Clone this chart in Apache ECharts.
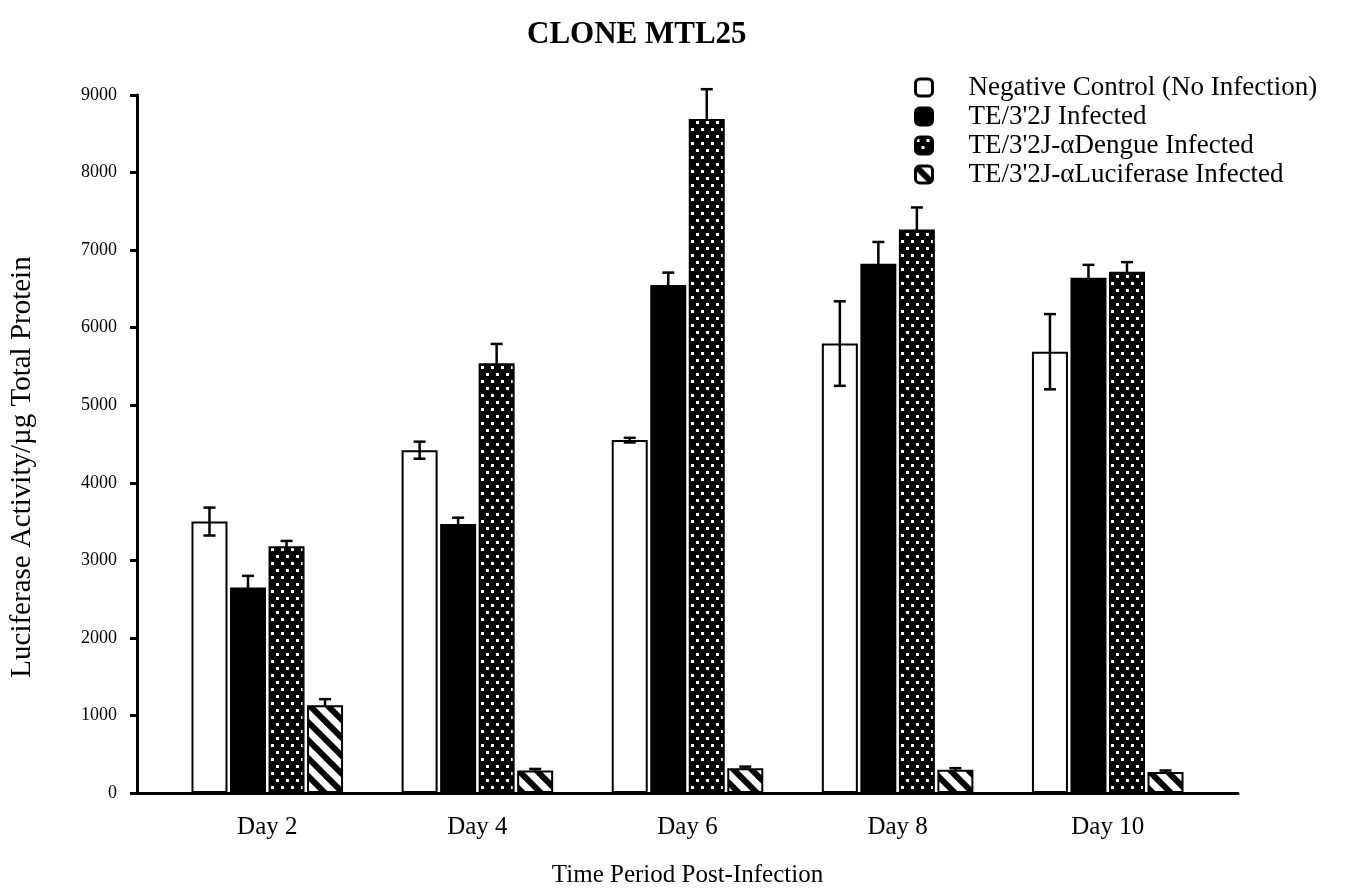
<!DOCTYPE html>
<html>
<head>
<meta charset="utf-8">
<script src="https://cdn.jsdelivr.net/npm/echarts@6/dist/echarts.min.js"></script>
<style>
html,body{margin:0;padding:0;background:#fff;}
#chart{width:1350px;height:893px;}
</style>
</head>
<body>
<div id="chart"></div>
<script>
// ---- data ----
const categories = ['Day 2', 'Day 4', 'Day 6', 'Day 8', 'Day 10'];
const seriesNames = [
  'Negative Control (No Infection)',
  "TE/3'2J Infected",
  "TE/3'2J-\u03B1Dengue Infected",
  "TE/3'2J-\u03B1Luciferase Infected"
];
const negControl = [3500, 4420, 4550, 5795, 5690];
const negControlErr = [180, 110, 30, 545, 485];
const te32j = [2650, 3470, 6550, 6825, 6645];
const te32jErr = [150, 80, 160, 280, 165];
const dengue = [3180, 5540, 8690, 7265, 6720];
const dengueErr = [70, 250, 385, 285, 125];
const luciferase = [1130, 290, 320, 300, 270];
const luciferaseErr = [80, 20, 20, 20, 20];
const yTicks = [0, 1000, 2000, 3000, 4000, 5000, 6000, 7000, 8000, 9000];

const values = [negControl, te32j, dengue, luciferase];
const errors = [negControlErr, te32jErr, dengueErr, luciferaseErr];

// ---- patterns ----
function dotsPattern() {
  const c = document.createElement('canvas');
  c.width = 10; c.height = 14;
  const ctx = c.getContext('2d');
  ctx.fillStyle = '#000'; ctx.fillRect(0, 0, 10, 14);
  ctx.fillStyle = '#fff';
  ctx.fillRect(1, 2, 3, 3);
  ctx.fillRect(6, 9, 3, 3);
  return c;
}
function stripePattern() {
  const s = 18;
  const c = document.createElement('canvas');
  c.width = s; c.height = s;
  const ctx = c.getContext('2d');
  ctx.fillStyle = '#fff'; ctx.fillRect(0, 0, s, s);
  ctx.strokeStyle = '#000'; ctx.lineWidth = 6;
  for (let k = -2; k <= 2; k++) {
    ctx.beginPath();
    ctx.moveTo(-s, -s + k * s);
    ctx.lineTo(2 * s, 2 * s + k * s);
    ctx.stroke();
  }
  return c;
}
const fills = [
  '#ffffff',
  '#000000',
  { image: dotsPattern(), repeat: 'repeat' },
  { image: stripePattern(), repeat: 'repeat' }
];

const BAR_W = 36;
const GAP = 0.07;
const FONT = '"Liberation Serif", "Times New Roman", serif';

const barSeries = values.map((vals, si) => ({
  type: 'bar',
  name: seriesNames[si],
  data: vals.map((v, i) => [i, v]),
  barWidth: BAR_W,
  barGap: (GAP * 100) + '%',
  z: 2,
  itemStyle: { color: fills[si], borderColor: '#000', borderWidth: 2 },
  emphasis: { disabled: true }
}));

const errSeries = values.map((vals, si) => ({
  type: 'custom',
  name: 'err' + si,
  z: si === 0 ? 5 : 1,
  data: vals.map((v, i) => [i, v, errors[si][i]]),
  encode: { x: 0, y: 1 },
  renderItem: function (params, api) {
    const x = api.value(0), v = api.value(1), e = api.value(2);
    const top = api.coord([x, v + e]);
    const bot = api.coord([x, v - e]);
    const dx = (si - 1.5) * BAR_W * (1 + GAP);
    const cx = top[0] + dx;
    const cap = 6;
    const st = { stroke: '#000', lineWidth: 2.5 };
    return {
      type: 'group',
      children: [
        { type: 'line', shape: { x1: cx, y1: top[1], x2: cx, y2: bot[1] }, style: st },
        { type: 'line', shape: { x1: cx - cap, y1: top[1], x2: cx + cap, y2: top[1] }, style: st },
        { type: 'line', shape: { x1: cx - cap, y1: bot[1], x2: cx + cap, y2: bot[1] }, style: st }
      ]
    };
  }
}));

const chart = echarts.init(document.getElementById('chart'), null, { renderer: 'canvas' });
chart.setOption({
  animation: false,
  backgroundColor: '#fff',
  title: {
    text: 'CLONE MTL25',
    left: 522, top: 14,
    textStyle: { fontFamily: FONT, fontWeight: 'bold', fontSize: 31, color: '#000' }
  },
  legend: {
    orient: 'vertical',
    left: 909, top: 69,
    data: seriesNames,
    itemWidth: 17, itemHeight: 17,
    itemGap: 2,
    icon: 'roundRect',
    selectedMode: false,
    itemStyle: { borderColor: '#000', borderWidth: 3 },
    textStyle: { fontFamily: FONT, fontSize: 27, color: '#000', padding: [0, 0, 0, 31] }
  },
  grid: { left: 137, right: 112, top: 95, bottom: 94, containLabel: false },
  xAxis: {
    type: 'value',
    min: -0.62, max: 4.62,
    name: 'Time Period Post-Infection',
    nameLocation: 'middle',
    nameGap: 70,
    nameTextStyle: { fontFamily: FONT, fontSize: 25, color: '#000' },
    axisLine: { show: true, onZero: false, lineStyle: { color: '#000', width: 3 } },
    axisTick: { show: false },
    splitLine: { show: false },
    axisLabel: {
      customValues: categories.map((c, i) => i),
      formatter: v => categories[Math.round(v)] || '',
      margin: 22,
      fontFamily: FONT, fontSize: 25, color: '#000'
    }
  },
  yAxis: {
    type: 'value',
    min: 0, max: 9000, interval: 1000,
    name: 'Luciferase Activity/\u00B5g Total Protein',
    nameLocation: 'middle',
    nameGap: 100,
    nameTextStyle: { fontFamily: FONT, fontSize: 29, color: '#000', padding: [0, 46, 0, 0] },
    axisLine: { show: true, onZero: false, lineStyle: { color: '#000', width: 3 } },
    axisTick: { show: true, length: 7, lineStyle: { color: '#000', width: 3 } },
    splitLine: { show: false },
    axisLabel: {
      customValues: yTicks,
      formatter: v => String(v),
      margin: 20,
      fontFamily: FONT, fontSize: 18, color: '#000'
    }
  },
  series: [...errSeries, ...barSeries]
});
</script>
</body>
</html>
